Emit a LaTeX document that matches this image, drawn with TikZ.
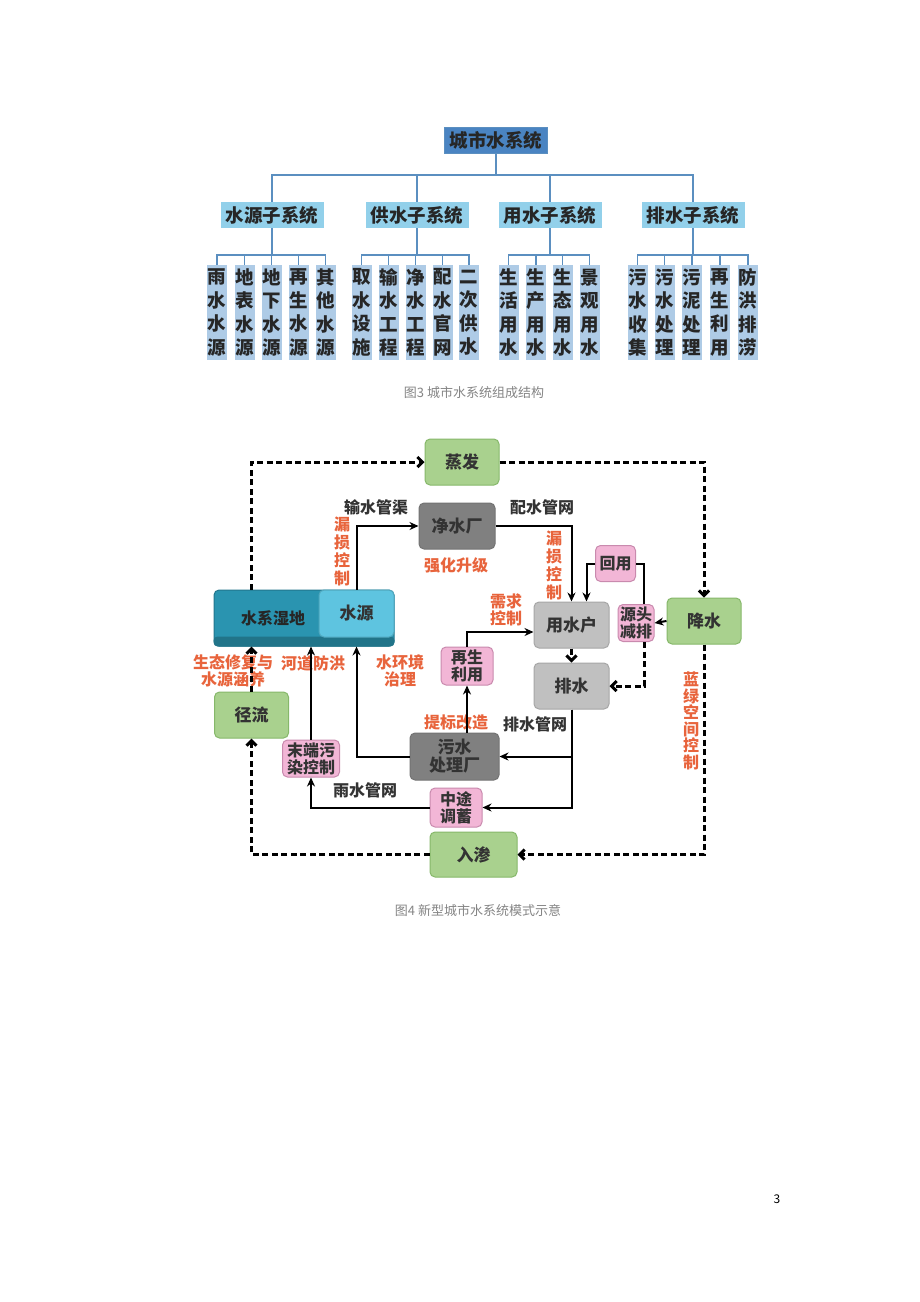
\documentclass[tikz,border=0pt]{standalone}
\usepackage{fontspec}
\setmainfont{Noto Sans CJK SC}
\usetikzlibrary{arrows.meta}

\definecolor{topblue}{HTML}{4A84C2}
\definecolor{subblue}{HTML}{92D0EA}
\definecolor{leafblue}{HTML}{AECBE6}
\definecolor{lnblue}{HTML}{5B8FC0}
\definecolor{boxgreen}{HTML}{A9D18E}
\definecolor{edgegreen}{HTML}{86B86A}
\definecolor{darkgray}{HTML}{808080}
\definecolor{lightgray}{HTML}{C0C0C0}
\definecolor{boxpink}{HTML}{F2B6D6}
\definecolor{edgepink}{HTML}{C98AAE}
\definecolor{wetteal}{HTML}{2A94B0}
\definecolor{srccyan}{HTML}{5EC4E0}
\definecolor{redtxt}{HTML}{E8643C}
\definecolor{captxt}{HTML}{858585}

\tikzset{
  ln/.style={draw=lnblue, line width=1.6pt},
  topbox/.style={fill=topblue, draw=lnblue, minimum width=103, minimum height=26, inner sep=0,
    font=\fontsize{18.5}{20}\selectfont\bfseries, text=black!85},
  subbox/.style={fill=subblue, minimum width=103, minimum height=26, inner sep=0,
    font=\fontsize{18.5}{20}\selectfont\bfseries, text=black!85},
  leaf/.style={fill=leafblue, minimum width=20, minimum height=95, inner sep=0, align=center,
    font=\fontsize{18.5}{23.5}\selectfont\bfseries, text=black!85},
  pbox/.style={rounded corners=5pt, line width=1pt, inner sep=0, align=center,
    font=\fontsize{17}{18}\selectfont\bfseries, text=black!80},
  gbox/.style={pbox, fill=boxgreen, draw=edgegreen, minimum width=74, minimum height=46},
  dbox/.style={pbox, fill=darkgray, draw=black!55, minimum width=76, minimum height=46},
  lbox/.style={pbox, fill=lightgray, draw=black!35, minimum width=75, minimum height=46},
  kbox/.style={pbox, fill=boxpink, draw=edgepink, font=\fontsize{16}{17}\selectfont\bfseries},
  lbl/.style={font=\fontsize{16}{18}\selectfont\bfseries, text=black!80, inner sep=0},
  redlbl/.style={font=\fontsize{16}{17}\selectfont\bfseries, text=redtxt, inner sep=0, align=center},
  arr/.style={line width=2pt, -{Stealth[length=9pt,width=8pt]}},
  plain/.style={line width=2pt},
  dsh/.style={line width=3pt, dash pattern=on 6pt off 3.5pt, -{Straight Barb[length=5pt,width=10pt]}},
  figcap/.style={font=\fontsize{13}{15}\selectfont, text=captxt, inner sep=0}
}

\begin{document}
\begin{tikzpicture}[x=1pt,y=-1pt]
  \useasboundingbox[fill=white] (0,0) rectangle (920,1302);

  % Figure 3
  \node[topbox] (top) at (496,140) {城市水系统};
  \node[subbox] (s1) at (272,215) {水源子系统};
  \node[subbox] (s2) at (417,215) {供水子系统};
  \node[subbox] (s3) at (550,215) {用水子系统};
  \node[subbox] (s4) at (693,215) {排水子系统};
  \draw[ln] (top.south) -- ++(0,22);
  \draw[ln] (s1.north) -- ++(0,-27) -| (s4.north);
  \draw[ln] (s2.north) -- ++(0,-27);
  \draw[ln] (s3.north) -- ++(0,-27);

  \node[leaf] (a1) at (217,312.5) {雨\\水\\水\\源};
  \node[leaf] (a2) at (244.5,312.5) {地\\表\\水\\源};
  \node[leaf] (a3) at (271.5,312.5) {地\\下\\水\\源};
  \node[leaf] (a4) at (298.5,312.5) {再\\生\\水\\源};
  \node[leaf] (a5) at (325.5,312.5) {其\\他\\水\\源};
  \node[leaf] (b1) at (361.5,312.5) {取\\水\\设\\施};
  \node[leaf] (b2) at (388.5,312.5) {输\\水\\工\\程};
  \node[leaf] (b3) at (415.5,312.5) {净\\水\\工\\程};
  \node[leaf] (b4) at (442.5,312.5) {配\\水\\官\\网};
  \node[leaf] (b5) at (469,312.5) {二\\次\\供\\水};
  \node[leaf] (c1) at (508.5,312.5) {生\\活\\用\\水};
  \node[leaf] (c2) at (536,312.5) {生\\产\\用\\水};
  \node[leaf] (c3) at (562.5,312.5) {生\\态\\用\\水};
  \node[leaf] (c4) at (589.5,312.5) {景\\观\\用\\水};
  \node[leaf] (d1) at (637.5,312.5) {污\\水\\收\\集};
  \node[leaf] (d2) at (664.5,312.5) {污\\水\\处\\理};
  \node[leaf] (d3) at (692,312.5) {污\\泥\\处\\理};
  \node[leaf] (d4) at (720,312.5) {再\\生\\利\\用};
  \node[leaf] (d5) at (748,312.5) {防\\洪\\排\\涝};

  \draw[ln] (s1.south) -- ++(0,27);
  \draw[ln] (s2.south) -- ++(0,27);
  \draw[ln] (s3.south) -- ++(0,27);
  \draw[ln] (s4.south) -- ++(0,27);
  \draw[ln] (a1.north) -- ++(0,-10) -| (a5.north);
  \draw[ln] (a2.north) -- ++(0,-10) (a3.north) -- ++(0,-10) (a4.north) -- ++(0,-10);
  \draw[ln] (b1.north) -- ++(0,-10) -| (b5.north);
  \draw[ln] (b2.north) -- ++(0,-10) (b3.north) -- ++(0,-10) (b4.north) -- ++(0,-10);
  \draw[ln] (c1.north) -- ++(0,-10) -| (c4.north);
  \draw[ln] (c2.north) -- ++(0,-10) (c3.north) -- ++(0,-10);
  \draw[ln] (d1.north) -- ++(0,-10) -| (d5.north);
  \draw[ln] (d2.north) -- ++(0,-10) (d3.north) -- ++(0,-10) (d4.north) -- ++(0,-10);

  \node[figcap] (cap3) at (474,393) {图3 城市水系统组成结构};

  % Figure 4
  \node[pbox, fill=wetteal, draw=wetteal!80!black, minimum width=180, minimum height=56] (sx) at (304,618) {};
  \fill[wetteal!78!black, rounded corners=4pt] ([yshift=10pt]sx.south west) rectangle (sx.south east);
  \node[lbl, text=black!85] (sxt) at (273,618) {水系湿地};
  \node[pbox, fill=srccyan, draw=srccyan!85!black, minimum width=75, minimum height=47] (sy) at (356.5,613.5) {水源};
  \node[gbox] (zf) at (462,462) {蒸发};
  \node[dbox] (jsc) at (457,526) {净水厂};
  \node[kbox, minimum width=40, minimum height=36] (hy) at (615.5,563.5) {回用};
  \node[lbox] (ysh) at (571.5,625) {用水户};
  \node[kbox, minimum width=36, minimum height=37] (ytjp) at (636,623) {源头\\减排};
  \node[gbox] (js) at (704,621) {降水};
  \node[lbox] (ps) at (571.5,686) {排水};
  \node[kbox, minimum width=52, minimum height=38] (zsly) at (467,666) {再生\\利用};
  \node[dbox, minimum width=89, minimum height=47] (wsc) at (454.5,756.5) {污水\\处理厂};
  \node[kbox, minimum width=52, minimum height=39] (ztx) at (456,807.5) {中途\\调蓄};
  \node[kbox, minimum width=57, minimum height=37] (mdk) at (311,758.5) {末端污\\染控制};
  \node[gbox] (jl) at (251.5,715) {径流};
  \node[gbox, minimum width=87, minimum height=45] (rs) at (473.5,854.5) {入渗};

  \node[lbl] (l1) at (376,507) {输水管渠};
  \node[lbl] (l2) at (542,507) {配水管网};
  \node[lbl] (l3) at (535,724) {排水管网};
  \node[lbl] (l4) at (365,790) {雨水管网};
  \node[redlbl, font=\fontsize{16}{18}\selectfont\bfseries] (r1) at (342,551) {漏\\损\\控\\制};
  \node[redlbl, font=\fontsize{16}{18}\selectfont\bfseries] (r2) at (554,565) {漏\\损\\控\\制};
  \node[redlbl] (r3) at (456,565) {强化升级};
  \node[redlbl] (r4) at (506,610) {需求\\控制};
  \node[redlbl] (r5) at (456,722) {提标改造};
  \node[redlbl, font=\fontsize{16}{16.5}\selectfont\bfseries] (r6) at (691,721) {蓝\\绿\\空\\间\\控\\制};
  \node[redlbl] (r7) at (233,671) {生态修复与\\水源涵养};
  \node[redlbl] (r8) at (313,663) {河道防洪};
  \node[redlbl] (r9) at (400,671) {水环境\\治理};

  \draw[dsh] (jl.north |- sx.north) |- (zf.west);
  \draw[dsh] (zf.east) -| (js.north);
  \draw[arr] (sy.north) |- (jsc.west);
  \draw[arr] (jsc.east) -| (ysh.north);
  \draw[arr] (hy.west) -| ([xshift=15pt]ysh.north);
  \draw[plain] (hy.east) -| ([xshift=8pt]ytjp.north);
  \draw[arr] (js.west) -- (ytjp.east);
  \draw[dsh] ([xshift=8pt]ytjp.south) |- (ps.east);
  \draw[dsh] (ysh.south) -- (ps.north);
  \draw[arr] (zsly.north) |- ([yshift=-7pt]ysh.west);
  \draw[arr] (zsly.south |- wsc.north) -- (zsly.south);
  \draw[arr] (wsc.west) -| (sx.south -| sy.south);
  \draw[arr] (ps.south) |- (wsc.east);
  \draw[arr] (ps.south) |- (ztx.east);
  \draw[arr] (ztx.west) -| (mdk.south);
  \draw[arr] (mdk.north) -- (mdk.north |- sx.south);
  \draw[dsh] (jl.north) -- (jl.north |- sx.south);
  \draw[dsh] (rs.west) -| (jl.south);
  \draw[dsh] (js.south) |- (rs.east);

  \node[figcap] (cap4) at (478,911) {图4 新型城市水系统模式示意};
  \node[font=\fontsize{12}{14}\selectfont, inner sep=0] (pg) at (777,1199) {3};
\end{tikzpicture}
\end{document}
